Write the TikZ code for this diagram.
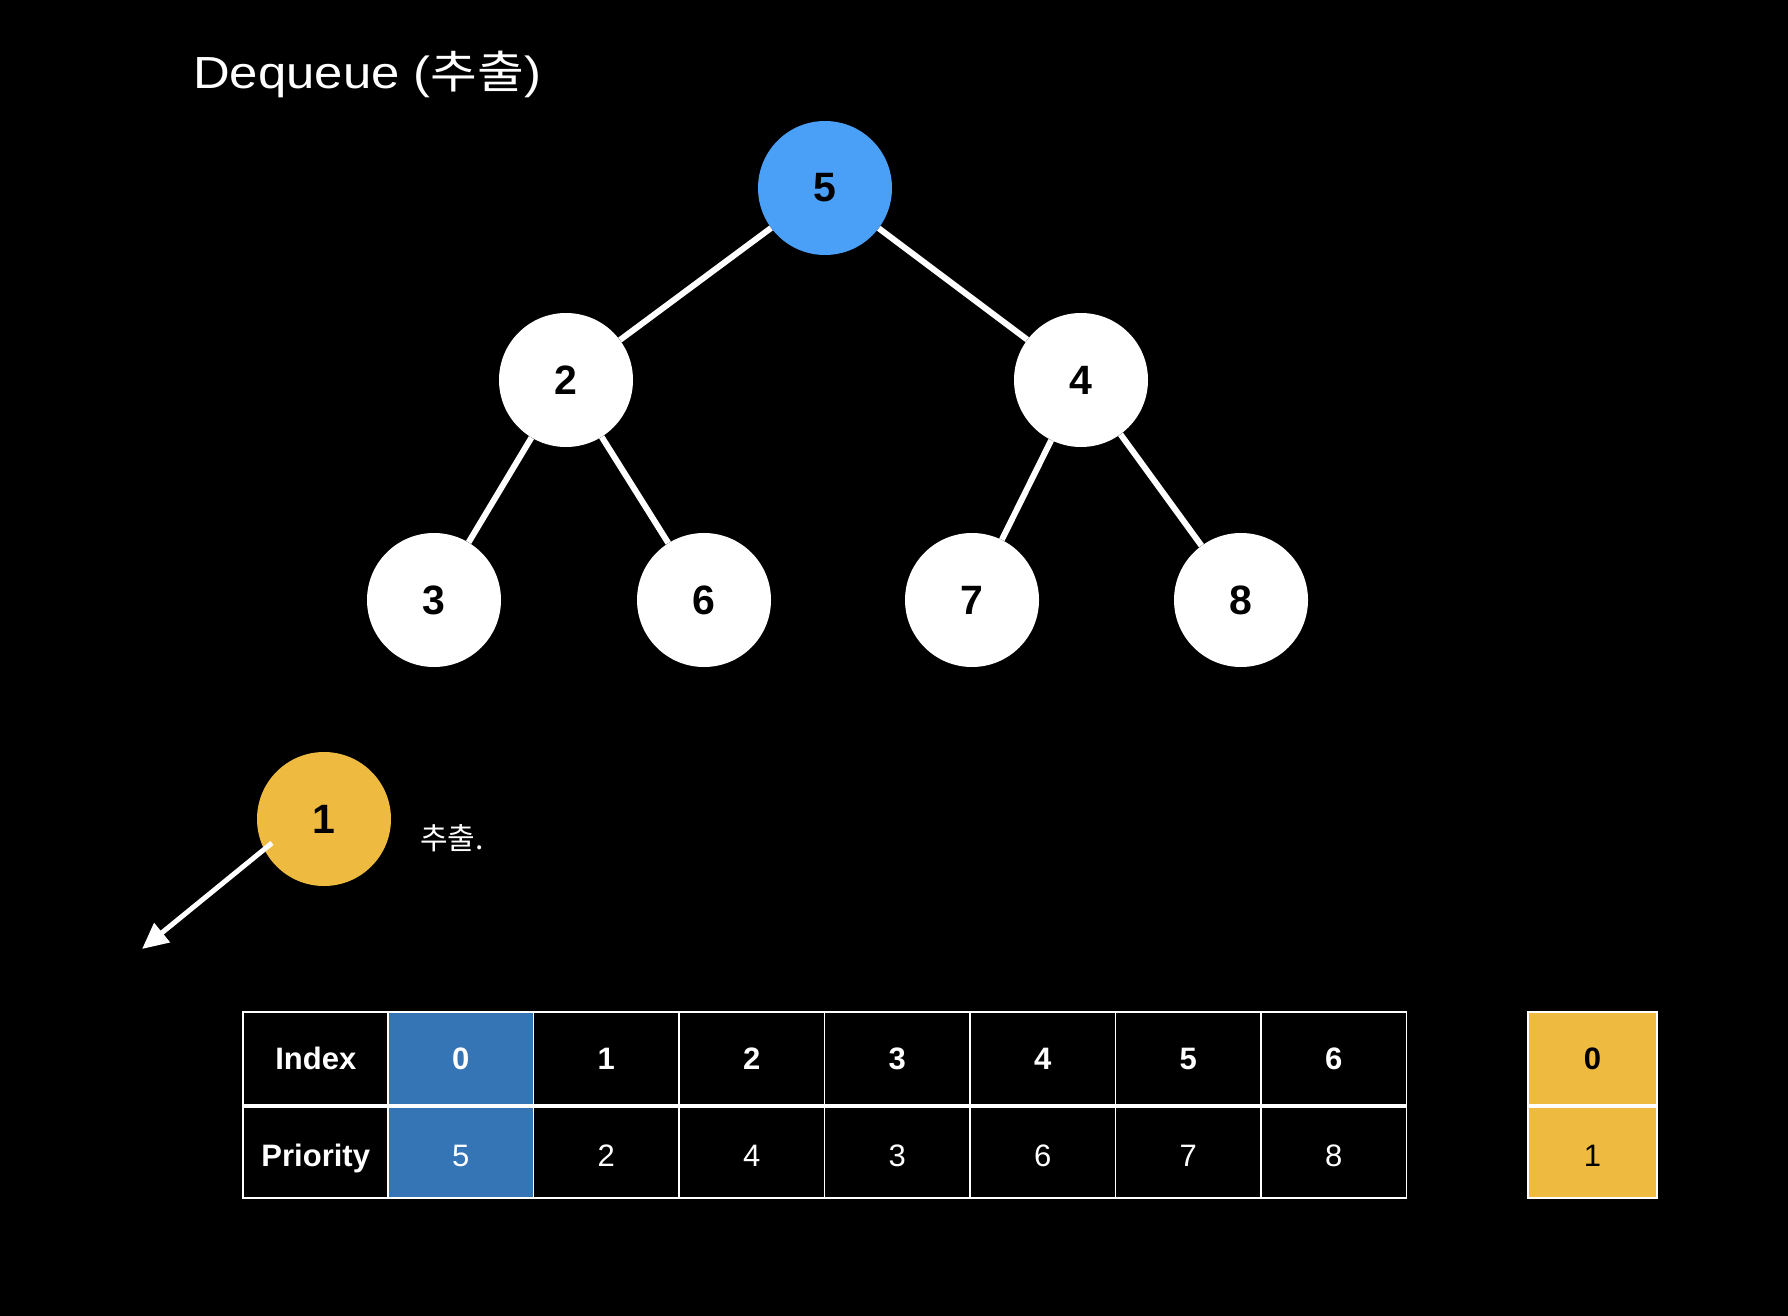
\documentclass[tikz,border=0pt]{standalone}
\usepackage{graphicx}
\usepackage{fontspec}
\setmainfont{Liberation Sans}
\newfontfamily\kofont{Noto Sans CJK KR}
\usetikzlibrary{arrows.meta}
\definecolor{rootblue}{HTML}{4A9FF7}
\definecolor{cellblue}{HTML}{3574B5}
\definecolor{popyellow}{HTML}{EEBA40}
\tikzset{
  heapnode/.style={circle, fill=white, minimum size=134pt, inner sep=0pt, font=\fontsize{41}{44}\selectfont\bfseries},
  treeedge/.style={draw=white, line width=6pt},
  cellbox/.style={draw=white, line width=1.5pt, minimum width=145.5pt, minimum height=93pt, inner sep=0pt, text=white, text height=30pt, text depth=0pt, font=\fontsize{31}{34}\selectfont},
  cellhead/.style={cellbox, text height=22pt, font=\fontsize{31}{34}\selectfont\bfseries}
}
\begin{document}
\begin{tikzpicture}[x=1pt, y=-1pt]
    \fill[black] (0,0) rectangle (1788,1316);
    \useasboundingbox (0,0) rectangle (1788,1316);

    \node[anchor=base west, text=white, inner sep=0pt, font=\fontsize{45}{50}\selectfont] (title) at (193,89) {\scalebox{1.13}[1]{Dequeue ({\kofont 추출})}};

    % heap
    \node[heapnode, fill=rootblue] (n5) at (825,188) {5};
    \node[heapnode] (n2) at (566,380) {2};
    \node[heapnode] (n4) at (1081,380) {4};
    \node[heapnode] (n3) at (434,600) {3};
    \node[heapnode] (n6) at (704,600) {6};
    \node[heapnode] (n7) at (972,600) {7};
    \node[heapnode] (n8) at (1241,600) {8};

    \draw[treeedge] (n5) -- (n2);
    \draw[treeedge] (n5) -- (n4);
    \draw[treeedge] (n2) -- (n3);
    \draw[treeedge] (n2) -- (n6);
    \draw[treeedge] (n4) -- (n7);
    \draw[treeedge] (n4) -- (n8);

    % popped node
    \node[heapnode, fill=popyellow] (n1) at (324,819) {1};
    \node[anchor=west, text=white, inner sep=0pt, font=\fontsize{30}{32}\selectfont\kofont] (poplabel) at (420,838) {추출.};
    \coordinate (popstart) at (272,843);
    \coordinate (popend) at (142,949);
    \draw[white, line width=5pt, -{Triangle[length=26pt, width=24pt]}] (popstart) -- (popend);

    % array
    \node[cellhead] (idxhead) at (315.75,1058.5) {Index};
    \node[cellbox, font=\fontsize{31}{34}\selectfont\bfseries] (prihead) at (315.75,1151.5) {Priority};
    \foreach \p/\c [count=\i from 0] in {5/cellblue,2/black,4/black,3/black,6/black,7/black,8/black} {
        \node[cellhead, fill=\c] (idx\i) at ({460.75+145.5*\i},1058.5) {\i};
        \node[cellbox, fill=\c] (pri\i) at ({460.75+145.5*\i},1151.5) {\p};
    }
    \draw[white, line width=4pt] (idxhead.south west) -- (idx6.south east);

    \node[cellhead, minimum width=129pt, fill=popyellow, text=black] (popidx) at (1592.5,1058.5) {0};
    \node[cellbox, minimum width=129pt, fill=popyellow, text=black] (poppri) at (1592.5,1151.5) {1};
    \draw[white, line width=4pt] (popidx.south west) -- (popidx.south east);
\end{tikzpicture}
\end{document}
